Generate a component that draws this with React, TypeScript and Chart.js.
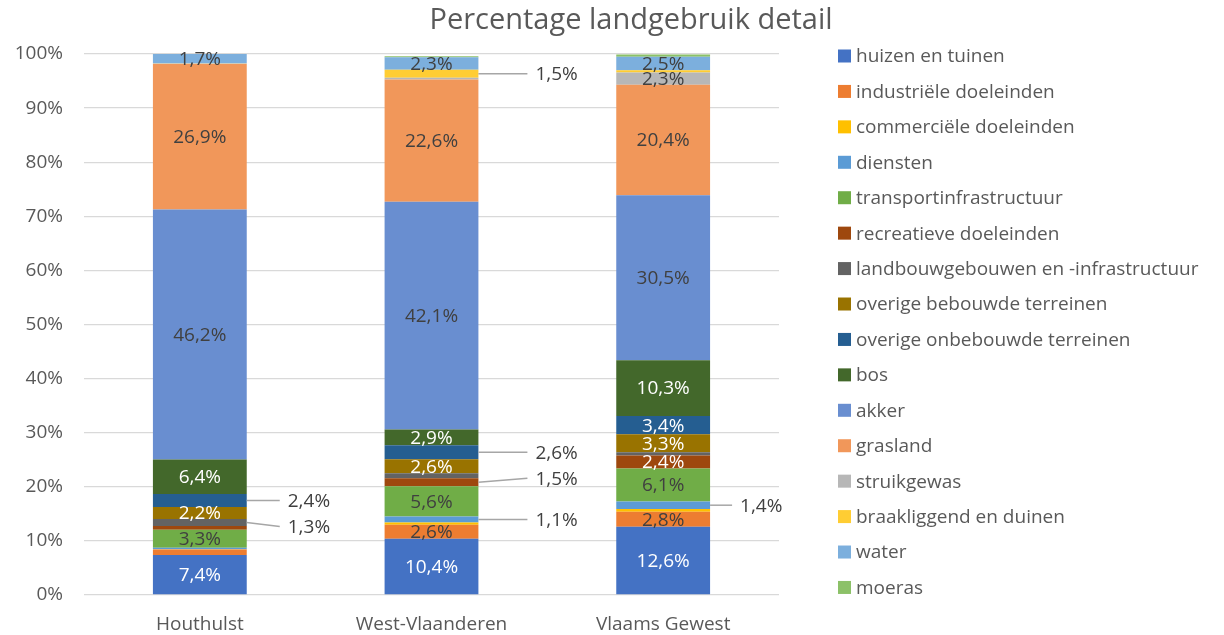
import React, { useEffect, useRef } from "react";
import { Chart, registerables } from "chart.js";

Chart.register(...registerables);

const chartTitle = "Percentage landgebruik detail";
const categories = ["Houthulst", "West-Vlaanderen", "Vlaams Gewest"];
const yTickValues = [0, 10, 20, 30, 40, 50, 60, 70, 80, 90, 100];

const seriesNames = [
  "huizen en tuinen",
  "industriële doeleinden",
  "commerciële doeleinden",
  "diensten",
  "transportinfrastructuur",
  "recreatieve doeleinden",
  "landbouwgebouwen en -infrastructuur",
  "overige bebouwde terreinen",
  "overige onbebouwde terreinen",
  "bos",
  "akker",
  "grasland",
  "struikgewas",
  "braakliggend en duinen",
  "water",
  "moeras",
];

// values in % per category (Houthulst, West-Vlaanderen, Vlaams Gewest)
const huizenEnTuinen = [7.4, 10.4, 12.6];
const industrieleDoeleinden = [1.0, 2.6, 2.8];
const commercieleDoeleinden = [0.05, 0.4, 0.5];
const diensten = [0.3, 1.1, 1.4];
const transportinfrastructuur = [3.3, 5.6, 6.1];
const recreatieveDoeleinden = [0.7, 1.5, 2.4];
const landbouwgebouwen = [1.3, 0.9, 0.6];
const overigeBebouwd = [2.2, 2.6, 3.3];
const overigeOnbebouwd = [2.4, 2.6, 3.4];
const bos = [6.4, 2.9, 10.3];
const akker = [46.2, 42.1, 30.5];
const grasland = [26.9, 22.6, 20.4];
const struikgewas = [0.1, 0.3, 2.3];
const braakliggend = [0.05, 1.5, 0.4];
const water = [1.7, 2.3, 2.5];
const moeras = [0, 0.2, 0.4];

const seriesValues = [
  huizenEnTuinen,
  industrieleDoeleinden,
  commercieleDoeleinden,
  diensten,
  transportinfrastructuur,
  recreatieveDoeleinden,
  landbouwgebouwen,
  overigeBebouwd,
  overigeOnbebouwd,
  bos,
  akker,
  grasland,
  struikgewas,
  braakliggend,
  water,
  moeras,
];

// styling
const seriesColors = [
  "#4472C4",
  "#ED7D31",
  "#FFC000",
  "#5B9BD5",
  "#70AD47",
  "#9E480E",
  "#636363",
  "#997300",
  "#255E91",
  "#43682B",
  "#698ED0",
  "#F1975A",
  "#B7B7B7",
  "#FFCD33",
  "#7CAFDD",
  "#8CC168",
];
const whiteLabelSeries = [0, 5, 7, 8, 9];

// which data labels are shown: "in" = inside the bar, "out" = callout to the right
const labelModes = [
  ["in", "in", "in"],
  ["", "in", "in"],
  ["", "", ""],
  ["", "out", "out"],
  ["in", "in", "in"],
  ["", "out", "in"],
  ["out", "", ""],
  ["in", "in", "in"],
  ["out", "out", "in"],
  ["in", "in", "in"],
  ["in", "in", "in"],
  ["in", "in", "in"],
  ["", "", "in"],
  ["", "out", ""],
  ["in", "in", "in"],
  ["", "", ""],
];
const calloutTextDy = [
  [0, 0, 0], [0, 0, 0], [0, 0, 0], [0, 0, 0], [0, 0, 0], [0, -4, 0],
  [4, 0, 0], [0, 0, 0], [0, 0, 0], [0, 0, 0], [0, 0, 0], [0, 0, 0],
  [0, 0, 0], [0, 0, 0], [0, 0, 0], [0, 0, 0],
];
const calloutLineLength = [33, 49, 22];

const FONT = "'Open Sans', 'Noto Sans', sans-serif";
const TEXT_COLOR = "#595959";
const DARK_LABEL = "#404040";
const GRID_COLOR = "#D9D9D9";
const FONT_SIZE = 19;

const fmt = (v: number) => v.toFixed(1).replace(".", ",") + "%";

const dataLabelPlugin = {
  id: "excelDataLabels",
  afterDatasetsDraw(chart: any) {
    const ctx = chart.ctx;
    ctx.save();
    ctx.font = `${FONT_SIZE}px ${FONT}`;
    ctx.textBaseline = "middle";
    chart.data.datasets.forEach((ds: any, i: number) => {
      const meta = chart.getDatasetMeta(i);
      meta.data.forEach((bar: any, j: number) => {
        const mode = labelModes[i][j];
        if (!mode) return;
        const v = ds.data[j];
        const props = bar.getProps(["x", "y", "base", "width"], true);
        const cy = (props.y + props.base) / 2;
        const text = fmt(v);
        if (mode === "in") {
          ctx.textAlign = "center";
          ctx.fillStyle = whiteLabelSeries.includes(i) ? "#FFFFFF" : DARK_LABEL;
          ctx.fillText(text, props.x, cy + 1);
        } else {
          const x0 = props.x + props.width / 2;
          const x1 = x0 + calloutLineLength[j];
          const ty = cy + calloutTextDy[i][j];
          ctx.strokeStyle = "#A6A6A6";
          ctx.lineWidth = 1.5;
          ctx.beginPath();
          ctx.moveTo(x0, cy);
          ctx.lineTo(x1, ty);
          ctx.stroke();
          ctx.textAlign = "left";
          ctx.fillStyle = DARK_LABEL;
          ctx.fillText(text, x1 + 8, ty + 1);
        }
      });
    });
    ctx.restore();
  },
};

const titleLegendPlugin = {
  id: "excelTitleLegend",
  afterDraw(chart: any) {
    const ctx = chart.ctx;
    ctx.save();
    ctx.fillStyle = TEXT_COLOR;
    ctx.font = `29px ${FONT}`;
    ctx.textAlign = "center";
    ctx.textBaseline = "middle";
    ctx.fillText(chartTitle, 631, 21);

    ctx.font = `${FONT_SIZE}px ${FONT}`;
    ctx.textAlign = "left";
    seriesNames.forEach((name, i) => {
      const y = 56 + i * 35.43;
      ctx.fillStyle = seriesColors[i];
      ctx.fillRect(838, y - 6.5, 13, 13);
      ctx.fillStyle = TEXT_COLOR;
      ctx.fillText(name, 856, y + 1);
    });
    ctx.restore();
  },
};

export default function App() {
  const canvasRef = useRef<HTMLCanvasElement | null>(null);

  useEffect(() => {
    if (!canvasRef.current) return;
    const chart = new Chart(canvasRef.current, {
      type: "bar",
      data: {
        labels: categories,
        datasets: seriesNames.map((name, i) => ({
          label: name,
          data: seriesValues[i],
          backgroundColor: seriesColors[i],
          borderWidth: 0,
          categoryPercentage: 1,
          barPercentage: 0.405,
        })),
      },
      options: {
        responsive: true,
        maintainAspectRatio: false,
        animation: false,
        layout: { padding: { top: 54, right: 445, left: 0, bottom: 0 } },
        plugins: {
          legend: { display: false },
          title: { display: false },
          tooltip: { enabled: false },
        },
        scales: {
          x: {
            stacked: true,
            grid: { display: false },
            border: { display: false },
            ticks: { color: TEXT_COLOR, font: { family: FONT, size: FONT_SIZE }, padding: 10 },
            afterFit: (s: any) => {
              s.height = 40;
            },
          },
          y: {
            stacked: true,
            min: 0,
            max: 100,
            afterBuildTicks: (s: any) => {
              s.ticks = yTickValues.map((v) => ({ value: v }));
            },
            ticks: {
              color: TEXT_COLOR,
              font: { family: FONT, size: FONT_SIZE },
              padding: 21,
              callback: (v: any) => v + "%",
            },
            grid: { color: GRID_COLOR, lineWidth: 1.3, drawTicks: false },
            border: { display: false },
            afterFit: (s: any) => {
              s.width = 84;
            },
          },
        },
      },
      plugins: [dataLabelPlugin, titleLegendPlugin],
    });
    return () => chart.destroy();
  }, []);

  return (
    <div style={{ position: "fixed", left: 0, top: 0, width: 1224, height: 635, background: "#fff" }}>
      <canvas ref={canvasRef} />
    </div>
  );
}
